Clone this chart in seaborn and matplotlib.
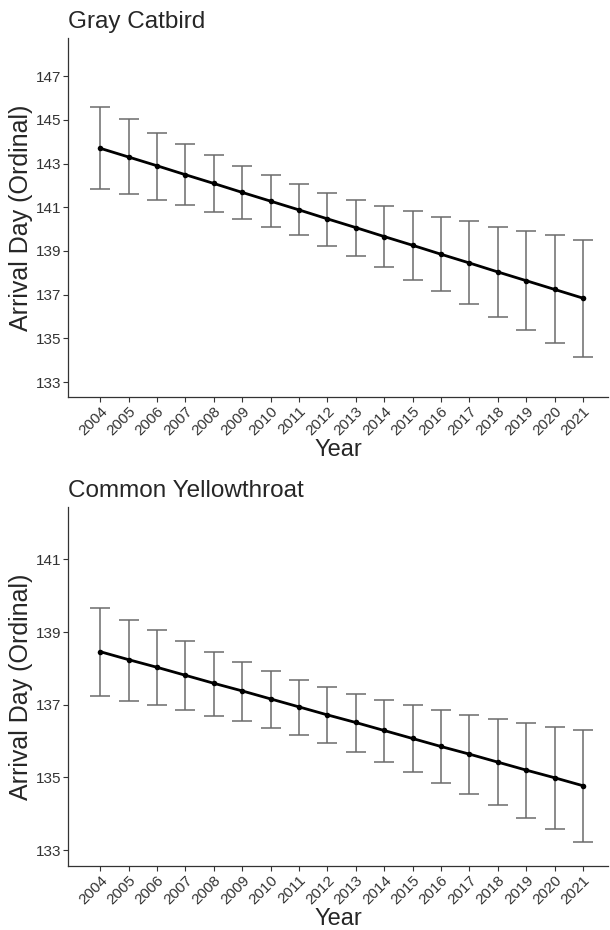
import numpy as np
import pandas as pd
import seaborn as sns
import matplotlib.pyplot as plt

years = list(range(2004, 2022))

# Gray Catbird
catbird_mean = [143.70, 143.30, 142.90, 142.49, 142.09, 141.68, 141.28, 140.88, 140.47,
                140.07, 139.66, 139.26, 138.85, 138.45, 138.04, 137.64, 137.24, 136.84]
catbird_upper = [145.57, 145.03, 144.42, 143.89, 143.37, 142.91, 142.46, 142.08, 141.66,
                 141.34, 141.04, 140.81, 140.55, 140.35, 140.09, 139.91, 139.71, 139.51]
catbird_lower = [141.85, 141.60, 141.34, 141.10, 140.78, 140.46, 140.09, 139.71, 139.24,
                 138.75, 138.26, 137.68, 137.16, 136.57, 135.99, 135.38, 134.77, 134.16]

# Common Yellowthroat
yellow_mean = [138.46, 138.24, 138.03, 137.81, 137.59, 137.38, 137.16, 136.94, 136.72,
               136.51, 136.29, 136.07, 135.85, 135.64, 135.42, 135.20, 134.99, 134.77]
yellow_upper = [139.66, 139.34, 139.05, 138.76, 138.45, 138.17, 137.92, 137.68, 137.49,
                137.30, 137.13, 136.98, 136.85, 136.72, 136.61, 136.50, 136.39, 136.30]
yellow_lower = [137.24, 137.10, 136.98, 136.85, 136.70, 136.56, 136.36, 136.16, 135.95,
                135.70, 135.42, 135.14, 134.84, 134.53, 134.23, 133.89, 133.57, 133.23]

panels = [
    ("Gray Catbird", catbird_mean, catbird_lower, catbird_upper,
     [133, 135, 137, 139, 141, 143, 145, 147], (132.31, 148.74)),
    ("Common Yellowthroat", yellow_mean, yellow_lower, yellow_upper,
     [133, 135, 137, 139, 141], (132.56, 142.44)),
]

sns.set_style("white")
plt.rcParams['font.family'] = ['Liberation Sans', 'DejaVu Sans']

fig = plt.figure(figsize=(6.1, 9.3), dpi=100)
rects = [[0.1115, 0.573, 0.886, 0.386], [0.1115, 0.0688, 0.886, 0.386]]

for rect, (title, mean, lower, upper, yticks, ylim) in zip(rects, panels):
    ax = fig.add_axes(rect)
    df = pd.DataFrame({"idx": np.arange(len(years)), "mean": mean,
                       "lower": lower, "upper": upper})
    ax.errorbar(df["idx"], df["mean"],
                yerr=[df["mean"] - df["lower"], df["upper"] - df["mean"]],
                fmt="none", ecolor="#6b6b6b", elinewidth=1.1, capsize=7, capthick=1.1)
    sns.lineplot(data=df, x="idx", y="mean", ax=ax, color="black", linewidth=2,
                 marker="o", markersize=4, markeredgewidth=0)
    ax.set_xlim(-1.13, 17.9)
    ax.set_ylim(*ylim)
    ax.set_xticks(range(len(years)))
    ax.set_xticklabels([str(y) for y in years], rotation=45, ha="right",
                       rotation_mode="anchor", fontsize=11, color="#333333")
    ax.set_yticks(yticks)
    ax.set_yticklabels([str(t) for t in yticks], fontsize=11, color="#333333")
    ax.tick_params(axis="both", length=3.5, width=0.8, color="#333333", pad=1.5, left=True, bottom=True)
    for side in ["top", "right"]:
        ax.spines[side].set_visible(False)
    for side in ["left", "bottom"]:
        ax.spines[side].set_color("#333333")
        ax.spines[side].set_linewidth(0.9)
    ax.set_xlabel("Year", fontsize=17, labelpad=1)
    ax.set_ylabel("Arrival Day (Ordinal)", fontsize=18)
    ax.yaxis.set_label_coords(-0.064, 0.5)
    ax.set_title(title, fontsize=17.5, loc="left", pad=7)

fig.savefig("out.png", dpi=100)
